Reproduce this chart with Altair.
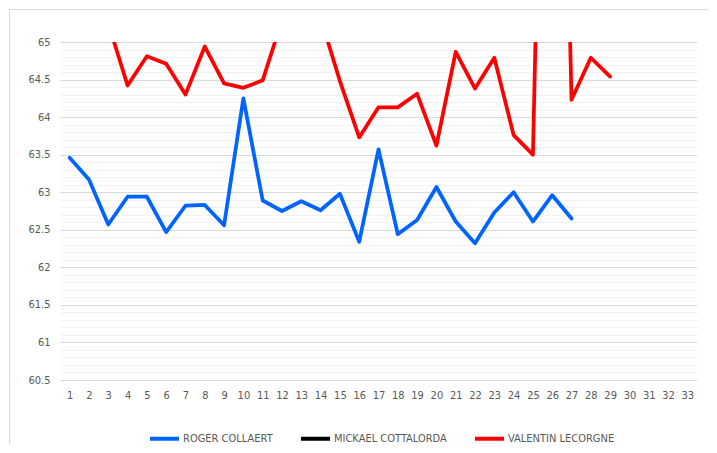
import altair as alt
import pandas as pd

# ---- data ----
days = list(range(1, 34))
series_names = ["ROGER COLLAERT", "MICKAEL COTTALORDA", "VALENTIN LECORGNE"]
series_colors = ["#0064ff", "#000000", "#ff0000"]

roger = [63.46, 63.17, 62.57, 62.94, 62.94, 62.47, 62.82, 62.83, 62.56, 64.25,
         62.89, 62.75, 62.88, 62.76, 62.98, 62.34, 63.57, 62.44, 62.63, 63.07,
         62.61, 62.32, 62.73, 63.00, 62.61, 62.96, 62.65,
         None, None, None, None, None, None]
mickael = [None] * 33
valentin = [None, None, 65.25, 64.42, 64.81, 64.71, 64.30, 64.94, 64.45, 64.39,
            64.49, 65.29, 65.50, 65.32, 64.48, 63.73, 64.13, 64.13, 64.31, 63.62,
            64.87, 64.38, 64.79, 63.76, 63.50, 75.00, 64.23, 64.79, 64.54,
            None, None, None, None]

y_min, y_max = 60.5, 65.0
grid_values = [round(y_min + 0.1 * i, 1) for i in range(46)]

rows = []
for name, vals in zip(series_names, [roger, mickael, valentin]):
    for d, v in zip(days, vals):
        rows.append({"name": name, "day": d, "value": v})
df = pd.DataFrame(rows)

FONT = "Liberation Sans Narrow, Arial Narrow, DejaVu Sans Condensed, Roboto, sans-serif"
LABEL_COLOR = "#595959"
FRAME_COLOR = "#d9d9d9"
major_test = "abs(datum.value*2 - round(datum.value*2)) < 0.001"

lines = alt.Chart(df).mark_line(
    clip=True, strokeWidth=3.75, strokeJoin="round", strokeCap="round"
).encode(
    x=alt.X(
        "day:O",
        scale=alt.Scale(domain=days, padding=0.5),
        axis=alt.Axis(
            title=None, labelAngle=0, ticks=False, domain=False, grid=False,
            labelPadding=9, labelFontSize=11, labelColor=LABEL_COLOR, labelFont=FONT,
        ),
    ),
    y=alt.Y(
        "value:Q",
        scale=alt.Scale(domain=[y_min, y_max], nice=False, zero=False),
        axis=alt.Axis(
            title=None, values=grid_values, ticks=False, domain=False,
            labelExpr=f"({major_test}) ? format(datum.value, '~g') : ''",
            labelOverlap=False, labelFlush=False, labelPadding=10,
            labelFontSize=11, labelColor=LABEL_COLOR, labelFont=FONT,
            gridColor={"condition": {"test": major_test, "value": "#d9d9d9"},
                       "value": "#f2f2f2"},
            gridWidth=1,
        ),
    ),
    color=alt.Color(
        "name:N",
        scale=alt.Scale(domain=series_names, range=series_colors),
        legend=alt.Legend(
            title=None, orient="none", direction="horizontal",
            legendX=88, legendY=380,
            symbolType="stroke", symbolStrokeWidth=4, symbolSize=841,
            labelFontSize=11, labelColor=LABEL_COLOR, labelFont=FONT,
            labelOffset=2, columnPadding=20,
        ),
    ),
    detail="name:N",
)

one = alt.Data(values=[{"k": 1}])
frame_top = alt.Chart(one).mark_rule(
    stroke=FRAME_COLOR, strokeWidth=1, clip=False
).encode(x=alt.value(-50.5), x2=alt.value(649), y=alt.value(-32.5))
frame_left = alt.Chart(one).mark_rule(
    stroke=FRAME_COLOR, strokeWidth=1, clip=False
).encode(x=alt.value(-50.5), y=alt.value(-32.5), y2=alt.value(403))

chart = alt.layer(frame_top, frame_left, lines).properties(
    width=637, height=338,
    autosize=alt.AutoSizeParams(type="none"),
    padding={"left": 52, "top": 34, "right": 12, "bottom": 65},
    background="white",
).configure_view(stroke=None)

chart.save("out.html", embed_options={"renderer": "svg", "actions": False})
